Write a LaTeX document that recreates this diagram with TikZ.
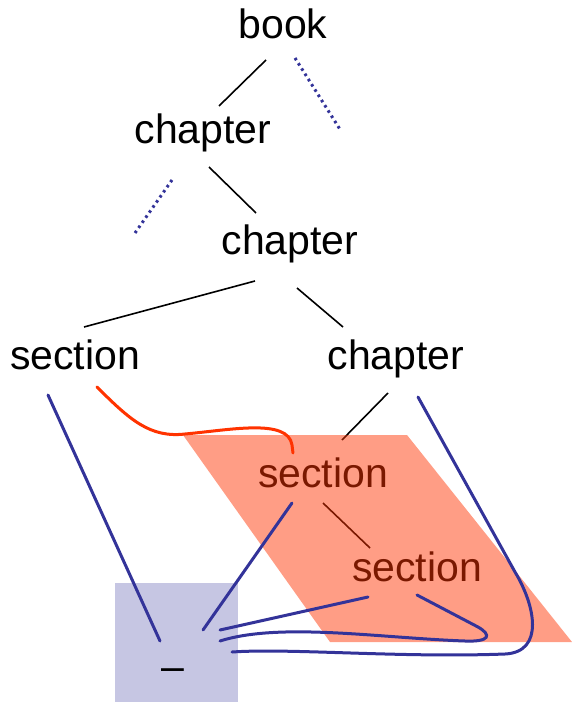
\documentclass[tikz,border=0pt]{standalone}
\usepackage{fontspec}
\setmainfont{Liberation Sans}
\definecolor{lnblue}{HTML}{333399}
\definecolor{lnred}{HTML}{FF3300}
\begin{document}
\begin{tikzpicture}[x=1pt,y=-1pt,
  lbl/.style={anchor=base,inner sep=0pt,font=\fontsize{41}{49}\selectfont},
  edge/.style={line width=1.6pt,black},
  dotline/.style={line width=3pt,lnblue,dash pattern=on 2.6pt off 3.6pt},
  bline/.style={line width=3pt,lnblue,line cap=round},
  rline/.style={line width=3pt,lnred,line cap=round}]
\useasboundingbox (0,0) rectangle (572,703);
% blue square region
\fill[lnblue,fill opacity=0.28] (115,583) rectangle (238,702);
% labels
\node[lbl] (book) at (283,39) {book};
\node[lbl] (ch1) at (203,144) {chapter};
\node[lbl] (ch2) at (290,254) {chapter};
\node[lbl] (secL) at (75,369) {section};
\node[lbl] (ch3) at (396,369) {chapter};
\node[lbl] (secR) at (323,487) {section};
\node[lbl] (sec2) at (417,581) {section};
\node[lbl] (dash) at (173,680) {–};
% tree edges
\draw[edge] ([shift={(-17,21)}]book.base) -- ([shift={(16,-38)}]ch1.base);
\draw[edge] ([shift={(6,23)}]ch1.base) -- ([shift={(-34,-41)}]ch2.base);
\draw[edge] ([shift={(-35,27)}]ch2.base) -- ([shift={(9,-42)}]secL.base);
\draw[edge] ([shift={(7,34)}]ch2.base) -- ([shift={(-53,-42)}]ch3.base);
\draw[edge] ([shift={(-8,24)}]ch3.base) -- ([shift={(19,-47)}]secR.base);
\draw[edge] ([shift={(0,16)}]secR.base) -- ([shift={(-47,-33)}]sec2.base);
% dotted
\coordinate (d1) at (341,131);
\coordinate (d2) at (135,233);
\draw[dotline] ([shift={(12,19)}]book.base) -- (d1);
\draw[dotline] ([shift={(-31,36)}]ch1.base) -- (d2);
% red region
\fill[lnred,fill opacity=0.48] (183,435) -- (407,435) -- (572,642) -- (330,642) -- cycle;
% red curve
\draw[rline] ([shift={(22,18)}]secL.base) .. controls (130,420) and (150,438) .. (185,434)
  .. controls (230,430) and (288,418) .. (292,445) -- ([shift={(-30,-34)}]secR.base);
% blue lines
\draw[bline] ([shift={(-27,26)}]secL.base) -- ([shift={(-13,-39)}]dash.base);
\draw[bline] ([shift={(-31,16)}]secR.base) -- ([shift={(30,-50)}]dash.base);
\draw[bline] ([shift={(-49,16)}]sec2.base) -- ([shift={(47,-50)}]dash.base);
\draw[bline] ([shift={(0,14)}]sec2.base) -- (478,627) .. controls (492,635) and (490,642) .. (465,641)
  .. controls (380,638) and (280,622) .. ([shift={(47,-39)}]dash.base);
\draw[bline] ([shift={(22,28)}]ch3.base) -- (515,572) .. controls (535,605) and (545,652) .. (505,654)
  .. controls (400,658) and (290,648) .. ([shift={(59,-28)}]dash.base);
\end{tikzpicture}
\end{document}
